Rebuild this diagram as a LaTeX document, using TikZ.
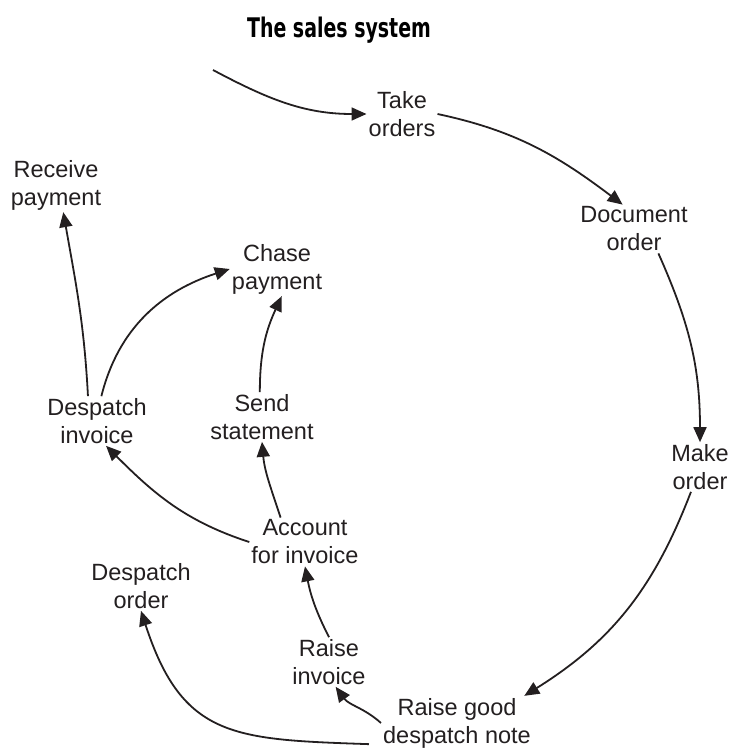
\documentclass[tikz,border=0pt]{standalone}
\usepackage{fontspec}
\setmainfont{Liberation Sans}
\newfontfamily\titlefont{DejaVu Sans Condensed Bold}
\usetikzlibrary{arrows.meta}
\definecolor{ink}{HTML}{231F20}
\tikzset{
	proc/.style={align=center, inner sep=2pt, text=ink, font=\fontsize{23.5}{28}\selectfont},
	flow/.style={line width=1.8pt, draw=ink, -{Triangle[length=15pt,width=13pt]}},
}

\begin{document}
\begin{tikzpicture}[x=1pt, y=1pt]
			%%%%% START %%%%%
			
			\useasboundingbox (0, 0) rectangle (729, -749);
			
			\node[xscale=0.78, transform shape, text=black, font=\titlefont\fontsize{27}{30}\selectfont] (title) at (339, -30) {The sales system};
			
			\coordinate (start) at (213, -70);
			\node[proc] (take) at (402, -114) {Take\\orders};
			\node[proc] (doc) at (634, -229) {Document\\order};
			\node[proc] (make) at (700, -467) {Make\\order};
			\node[proc] (rgdn) at (457, -723) {Raise good\\despatch note};
			\node[proc] (rinv) at (329, -662) {Raise\\invoice};
			\node[proc] (acct) at (305, -542) {Account\\for invoice};
			\node[proc] (dorder) at (141, -586) {Despatch\\order};
			\node[proc] (dinv) at (97, -421) {Despatch\\invoice};
			\node[proc] (sstmt) at (262, -417) {Send\\statement};
			\node[proc] (cpay) at (277, -269) {Chase\\payment};
			\node[proc] (rpay) at (56, -185) {Receive\\payment};
			
			\draw[flow] (start) to[out=-28, in=180] (take.west);
			\draw[flow] (take.east) to[out=-12, in=143] (doc.115);
			\draw[flow] (doc.-45) to[out=-66, in=90] (make.north);
			\draw[flow] (make.-110) to[out=-111, in=32] (rgdn.22);
			
			\draw[flow] ([xshift=-12pt, yshift=6pt]rgdn.south west) to[out=178, in=-72, looseness=1.3] (dorder.south);
			\draw[flow] (rgdn.west) to[out=138, in=-54] (rinv.-75);
			\draw[flow] (rinv.north) to[out=117, in=-79] (acct.south);
			\draw[flow] (acct.west) to[out=162, in=-45] (dinv.-70);
			\draw[flow] (acct.135) to[out=108, in=-85] (sstmt.south);
			
			\draw[flow] (dinv.110) to[out=93, in=-80] (rpay.-75);
			\draw[flow] (dinv.80) to[out=76, in=-162] (cpay.west);
			\draw[flow] (sstmt.95) to[out=90, in=-115] (cpay.-80);
			
			%%%%% END %%%%%
		\end{tikzpicture}
\end{document}
